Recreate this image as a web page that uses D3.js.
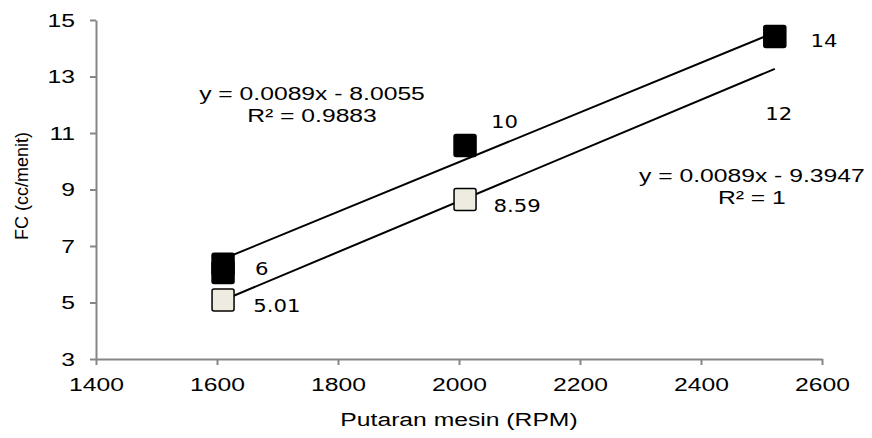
<!DOCTYPE html>
<html>
<head>
<meta charset="utf-8">
<script src="https://cdn.jsdelivr.net/npm/d3@7/dist/d3.min.js"></script>
<style>
    body { margin: 0; background: #fff; }
    .axis path, .axis line { stroke: #868686; stroke-width: 2; }
    .axis text { font-family: "Liberation Sans", Arial, sans-serif; font-size: 19px; fill: #000; }
</style>
</head>
<body>
<svg id="chart"></svg>
<script>
const rpmTicks = [1400, 1600, 1800, 2000, 2200, 2400, 2600];
const fcTicks = [3, 5, 7, 9, 11, 13, 15];

// filled series (two readings overlap at 1610)
const darkRpm = [1610, 1610, 2010, 2522];
const darkFc = [6.35, 6.06, 10.56, 14.42];
// open series
const lightRpm = [1610, 2010];
const lightFc = [5.09, 8.65];

// trendlines as drawn
const darkTrendRpm = [1610, 2522];
const darkTrendFc = [6.54, 14.56];
const lightTrendRpm = [1610, 2522];
const lightTrendFc = [5.08, 13.27];

const labelText = ["6", "5.01", "8.59", "10", "14", "12"];
const labelRpm = [1663, 1660, 2057, 2053, 2581, 2506];
const labelFc = [5.97, 4.66, 8.21, 11.18, 14.05, 11.46];

const eqLines = [
    ["y = 0.0089x - 8.0055", "R² = 0.9883"],
    ["y = 0.0089x - 9.3947", "R² = 1"]
];
const eqRpm = [1757, 2484];
const eqFc = [12.17, 9.27];

const width = 872, height = 438;
const margin = { top: 20, right: 50, bottom: 79, left: 96 };
const sx = 1.3; // text in the source is drawn wide

const svg = d3.select("#chart")
    .attr("width", width)
    .attr("height", height);

const x = d3.scaleLinear()
    .domain([1400, 2600])
    .range([margin.left, width - margin.right]);

const y = d3.scaleLinear()
    .domain([3, 15])
    .range([height - margin.bottom, margin.top]);

// widen a text element around its anchor point
function widen(sel, k) {
    sel.each(function() {
        const t = d3.select(this);
        const tx = +t.attr("x") || 0, ty = +t.attr("y") || 0;
        t.attr("x", 0).attr("y", 0)
            .attr("transform", `translate(${tx},${ty}) scale(${k},1)`);
    });
}

svg.append("g")
    .attr("class", "axis")
    .attr("transform", `translate(0,${height - margin.bottom})`)
    .call(d3.axisBottom(x).tickValues(rpmTicks).tickFormat(d3.format("d"))
        .tickSize(6).tickSizeOuter(0).tickPadding(13))
    .call(g => g.selectAll("text").attr("font-family", null).attr("font-size", null)
        .attr("dy", "0.71em").call(widen, sx));

svg.append("g")
    .attr("class", "axis")
    .attr("transform", `translate(${margin.left},0)`)
    .call(d3.axisLeft(y).tickValues(fcTicks).tickSize(6).tickSizeOuter(0).tickPadding(15))
    .call(g => g.selectAll("text").attr("font-family", null).attr("font-size", null)
        .call(widen, sx));

// axis titles
svg.append("text")
    .attr("x", (margin.left + width - margin.right) / 2)
    .attr("y", height - 12)
    .attr("text-anchor", "middle")
    .attr("font-family", "Liberation Sans, Arial, sans-serif")
    .attr("font-size", 19)
    .text("Putaran mesin (RPM)")
    .call(widen, sx);

svg.append("text")
    .attr("transform", `translate(28,186) rotate(-90)`)
    .attr("text-anchor", "middle")
    .attr("font-family", "Liberation Sans, Arial, sans-serif")
    .attr("font-size", 18)
    .text("FC (cc/menit)");

// trendlines
const line = d3.line().x(d => x(d[0])).y(d => y(d[1]));
[[darkTrendRpm, darkTrendFc], [lightTrendRpm, lightTrendFc]].forEach(([rs, fs]) => {
    svg.append("path")
        .datum(d3.zip(rs, fs))
        .attr("d", line)
        .attr("fill", "none")
        .attr("stroke", "#000")
        .attr("stroke-width", 2);
});

// markers
const size = 22;
svg.append("g")
    .selectAll("rect")
    .data(d3.zip(lightRpm, lightFc))
    .enter()
    .append("rect")
    .attr("x", d => x(d[0]) - size / 2)
    .attr("y", d => y(d[1]) - size / 2)
    .attr("width", size)
    .attr("height", size)
    .attr("rx", 2)
    .attr("fill", "#eeece1")
    .attr("stroke", "#000")
    .attr("stroke-width", 1.5);

svg.append("g")
    .selectAll("rect")
    .data(d3.zip(darkRpm, darkFc))
    .enter()
    .append("rect")
    .attr("x", d => x(d[0]) - size / 2)
    .attr("y", d => y(d[1]) - size / 2)
    .attr("width", size)
    .attr("height", size)
    .attr("rx", 2)
    .attr("fill", "#000")
    .attr("stroke", "#000")
    .attr("stroke-width", 1.5);

// data labels
svg.append("g")
    .selectAll("text")
    .data(d3.zip(labelText, labelRpm, labelFc))
    .enter()
    .append("text")
    .attr("x", d => x(d[1]))
    .attr("y", d => y(d[2]))
    .attr("font-family", "DejaVu Sans, sans-serif")
    .attr("font-size", 17)
    .text(d => d[0])
    .call(widen, 1.25);

// trendline equations
eqLines.forEach((lines, i) => {
    lines.forEach((s, j) => {
        svg.append("text")
            .attr("x", x(eqRpm[i]))
            .attr("y", y(eqFc[i]) + j * 22)
            .attr("text-anchor", "middle")
            .attr("font-family", "Liberation Sans, Arial, sans-serif")
            .attr("font-size", 19)
            .text(s)
            .call(widen, 1.3);
    });
});
</script>
</body>
</html>
